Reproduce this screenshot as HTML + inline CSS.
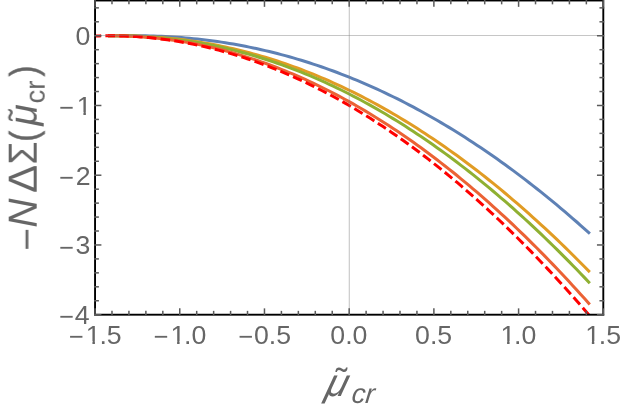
<!DOCTYPE html>
<html><head><meta charset="utf-8"><title>plot</title>
<style>
html,body{margin:0;padding:0;background:#fff;}
body{width:623px;height:410px;overflow:hidden;}
svg{display:block;}
text{font-family:"Liberation Sans",sans-serif;fill:#666;}
.i{font-style:italic;}
</style></head><body>
<svg width="623" height="410" viewBox="0 0 623 410">
<rect width="623" height="410" fill="#fff"/>
<defs><filter id="gs" x="-20%" y="-20%" width="140%" height="140%" color-interpolation-filters="sRGB"><feColorMatrix type="saturate" values="0"/></filter><clipPath id="pc"><rect x="95.05" y="0.50" width="508.25" height="314.20"/></clipPath></defs>
<g clip-path="url(#pc)" fill="none" stroke-width="3.00" stroke-linecap="square" stroke-linejoin="round">
<path d="M109.58 35.75 L113.58 35.72 L117.57 35.67 L121.56 35.64 L125.56 35.62 L129.55 35.61 L133.54 35.62 L137.54 35.65 L141.53 35.70 L145.52 35.78 L149.52 35.88 L153.51 36.00 L157.50 36.14 L161.50 36.31 L165.49 36.51 L169.48 36.73 L173.47 36.98 L177.47 37.26 L181.46 37.56 L185.45 37.89 L189.45 38.25 L193.44 38.64 L197.43 39.05 L201.43 39.50 L205.42 39.97 L209.41 40.47 L213.41 41.00 L217.40 41.56 L221.39 42.14 L225.39 42.76 L229.38 43.41 L233.37 44.09 L237.37 44.79 L241.36 45.53 L245.35 46.30 L249.35 47.10 L253.34 47.92 L257.33 48.78 L261.32 49.67 L265.32 50.59 L269.31 51.54 L273.30 52.52 L277.30 53.54 L281.29 54.58 L285.28 55.66 L289.28 56.76 L293.27 57.90 L297.26 59.07 L301.26 60.27 L305.25 61.51 L309.24 62.77 L313.24 64.07 L317.23 65.39 L321.22 66.75 L325.22 68.14 L329.21 69.57 L333.20 71.02 L337.20 72.51 L341.19 74.03 L345.18 75.58 L349.18 77.17 L353.17 78.78 L357.16 80.43 L361.15 82.11 L365.15 83.83 L369.14 85.57 L373.13 87.35 L377.13 89.16 L381.12 91.00 L385.11 92.88 L389.11 94.79 L393.10 96.73 L397.09 98.71 L401.09 100.71 L405.08 102.75 L409.07 104.83 L413.07 106.93 L417.06 109.07 L421.05 111.24 L425.05 113.45 L429.04 115.69 L433.03 117.96 L437.03 120.26 L441.02 122.60 L445.01 124.97 L449.00 127.38 L453.00 129.81 L456.99 132.28 L460.98 134.79 L464.98 137.32 L468.97 139.89 L472.96 142.50 L476.96 145.14 L480.95 147.81 L484.94 150.51 L488.94 153.25 L492.93 156.02 L496.92 158.82 L500.92 161.66 L504.91 164.53 L508.90 167.44 L512.90 170.38 L516.89 173.35 L520.88 176.36 L524.88 179.40 L528.87 182.47 L532.86 185.58 L536.85 188.72 L540.85 191.90 L544.84 195.11 L548.83 198.35 L552.83 201.63 L556.82 204.94 L560.81 208.28 L564.81 211.66 L568.80 215.08 L572.79 218.52 L576.79 222.00 L580.78 225.52 L584.77 229.07 L588.77 232.65" stroke="#5E81B5"/>
<path d="M109.58 35.75 L113.58 35.74 L117.57 35.74 L121.56 35.76 L125.56 35.81 L129.55 35.88 L133.54 35.98 L137.54 36.11 L141.53 36.27 L145.52 36.46 L149.52 36.68 L153.51 36.93 L157.50 37.21 L161.50 37.52 L165.49 37.87 L169.48 38.24 L173.47 38.65 L177.47 39.10 L181.46 39.57 L185.45 40.08 L189.45 40.62 L193.44 41.19 L197.43 41.79 L201.43 42.43 L205.42 43.11 L209.41 43.81 L213.41 44.55 L217.40 45.33 L221.39 46.14 L225.39 46.98 L229.38 47.85 L233.37 48.76 L237.37 49.71 L241.36 50.69 L245.35 51.70 L249.35 52.74 L253.34 53.83 L257.33 54.94 L261.32 56.09 L265.32 57.28 L269.31 58.50 L273.30 59.75 L277.30 61.04 L281.29 62.37 L285.28 63.72 L289.28 65.12 L293.27 66.55 L297.26 68.01 L301.26 69.51 L305.25 71.04 L309.24 72.61 L313.24 74.22 L317.23 75.85 L321.22 77.53 L325.22 79.24 L329.21 80.98 L333.20 82.76 L337.20 84.58 L341.19 86.43 L345.18 88.32 L349.18 90.24 L353.17 92.19 L357.16 94.19 L361.15 96.21 L365.15 98.28 L369.14 100.38 L373.13 102.51 L377.13 104.68 L381.12 106.89 L385.11 109.13 L389.11 111.40 L393.10 113.72 L397.09 116.06 L401.09 118.45 L405.08 120.87 L409.07 123.32 L413.07 125.81 L417.06 128.34 L421.05 130.90 L425.05 133.50 L429.04 136.14 L433.03 138.81 L437.03 141.51 L441.02 144.26 L445.01 147.03 L449.00 149.85 L453.00 152.70 L456.99 155.58 L460.98 158.50 L464.98 161.46 L468.97 164.46 L472.96 167.49 L476.96 170.55 L480.95 173.65 L484.94 176.79 L488.94 179.97 L492.93 183.18 L496.92 186.42 L500.92 189.70 L504.91 193.02 L508.90 196.38 L512.90 199.77 L516.89 203.19 L520.88 206.66 L524.88 210.16 L528.87 213.69 L532.86 217.26 L536.85 220.87 L540.85 224.52 L544.84 228.20 L548.83 231.91 L552.83 235.66 L556.82 239.45 L560.81 243.28 L564.81 247.14 L568.80 251.04 L572.79 254.97 L576.79 258.94 L580.78 262.95 L584.77 266.99 L588.77 271.07" stroke="#E19C24"/>
<path d="M109.58 35.75 L113.58 35.75 L117.57 35.76 L121.56 35.80 L125.56 35.87 L129.55 35.96 L133.54 36.09 L137.54 36.25 L141.53 36.44 L145.52 36.66 L149.52 36.92 L153.51 37.20 L157.50 37.53 L161.50 37.88 L165.49 38.27 L169.48 38.69 L173.47 39.15 L177.47 39.63 L181.46 40.16 L185.45 40.72 L189.45 41.31 L193.44 41.94 L197.43 42.60 L201.43 43.30 L205.42 44.03 L209.41 44.79 L213.41 45.59 L217.40 46.43 L221.39 47.30 L225.39 48.21 L229.38 49.15 L233.37 50.13 L237.37 51.14 L241.36 52.19 L245.35 53.27 L249.35 54.39 L253.34 55.55 L257.33 56.74 L261.32 57.96 L265.32 59.23 L269.31 60.52 L273.30 61.86 L277.30 63.22 L281.29 64.63 L285.28 66.07 L289.28 67.55 L293.27 69.06 L297.26 70.61 L301.26 72.19 L305.25 73.81 L309.24 75.47 L313.24 77.16 L317.23 78.89 L321.22 80.66 L325.22 82.46 L329.21 84.29 L333.20 86.17 L337.20 88.08 L341.19 90.02 L345.18 92.01 L349.18 94.02 L353.17 96.08 L357.16 98.17 L361.15 100.30 L365.15 102.46 L369.14 104.66 L373.13 106.90 L377.13 109.17 L381.12 111.48 L385.11 113.83 L389.11 116.21 L393.10 118.63 L397.09 121.08 L401.09 123.58 L405.08 126.10 L409.07 128.67 L413.07 131.27 L417.06 133.91 L421.05 136.58 L425.05 139.30 L429.04 142.04 L433.03 144.83 L437.03 147.65 L441.02 150.51 L445.01 153.40 L449.00 156.33 L453.00 159.30 L456.99 162.31 L460.98 165.35 L464.98 168.43 L468.97 171.54 L472.96 174.69 L476.96 177.88 L480.95 181.11 L484.94 184.37 L488.94 187.67 L492.93 191.00 L496.92 194.37 L500.92 197.78 L504.91 201.23 L508.90 204.71 L512.90 208.23 L516.89 211.79 L520.88 215.38 L524.88 219.01 L528.87 222.68 L532.86 226.38 L536.85 230.12 L540.85 233.90 L544.84 237.72 L548.83 241.57 L552.83 245.46 L556.82 249.38 L560.81 253.35 L564.81 257.35 L568.80 261.38 L572.79 265.46 L576.79 269.57 L580.78 273.71 L584.77 277.90 L588.77 282.12" stroke="#8FB032"/>
<path d="M109.58 35.75 L113.58 35.76 L117.57 35.81 L121.56 35.89 L125.56 36.01 L129.55 36.16 L133.54 36.34 L137.54 36.57 L141.53 36.83 L145.52 37.13 L149.52 37.46 L153.51 37.83 L157.50 38.23 L161.50 38.68 L165.49 39.16 L169.48 39.68 L173.47 40.23 L177.47 40.82 L181.46 41.45 L185.45 42.12 L189.45 42.82 L193.44 43.56 L197.43 44.34 L201.43 45.15 L205.42 46.00 L209.41 46.89 L213.41 47.82 L217.40 48.78 L221.39 49.78 L225.39 50.82 L229.38 51.90 L233.37 53.01 L237.37 54.16 L241.36 55.35 L245.35 56.58 L249.35 57.84 L253.34 59.14 L257.33 60.48 L261.32 61.86 L265.32 63.27 L269.31 64.72 L273.30 66.21 L277.30 67.74 L281.29 69.30 L285.28 70.91 L289.28 72.54 L293.27 74.22 L297.26 75.94 L301.26 77.69 L305.25 79.48 L309.24 81.31 L313.24 83.17 L317.23 85.08 L321.22 87.02 L325.22 89.00 L329.21 91.01 L333.20 93.07 L337.20 95.16 L341.19 97.29 L345.18 99.46 L349.18 101.66 L353.17 103.91 L357.16 106.19 L361.15 108.51 L365.15 110.87 L369.14 113.26 L373.13 115.69 L377.13 118.16 L381.12 120.67 L385.11 123.22 L389.11 125.80 L393.10 128.42 L397.09 131.08 L401.09 133.78 L405.08 136.51 L409.07 139.29 L413.07 142.10 L417.06 144.95 L421.05 147.83 L425.05 150.76 L429.04 153.72 L433.03 156.72 L437.03 159.76 L441.02 162.84 L445.01 165.95 L449.00 169.10 L453.00 172.29 L456.99 175.52 L460.98 178.79 L464.98 182.09 L468.97 185.43 L472.96 188.81 L476.96 192.23 L480.95 195.68 L484.94 199.18 L488.94 202.71 L492.93 206.28 L496.92 209.89 L500.92 213.53 L504.91 217.22 L508.90 220.94 L512.90 224.70 L516.89 228.49 L520.88 232.33 L524.88 236.20 L528.87 240.11 L532.86 244.06 L536.85 248.05 L540.85 252.07 L544.84 256.14 L548.83 260.24 L552.83 264.38 L556.82 268.56 L560.81 272.77 L564.81 277.02 L568.80 281.32 L572.79 285.65 L576.79 290.01 L580.78 294.42 L584.77 298.86 L588.77 303.34" stroke="#EB6235"/>
<path d="M95.05 36.01 L99.16 35.88 L103.28 35.80 L107.39 35.76 L111.51 35.75 L115.62 35.79 L119.74 35.88 L123.85 36.00 L127.96 36.16 L132.08 36.36 L136.19 36.61 L140.31 36.90 L144.42 37.22 L148.54 37.59 L152.65 38.00 L156.76 38.45 L160.88 38.95 L164.99 39.48 L169.11 40.05 L173.22 40.67 L177.34 41.33 L181.45 42.02 L185.56 42.76 L189.68 43.54 L193.79 44.36 L197.91 45.23 L202.02 46.13 L206.14 47.08 L210.25 48.06 L214.36 49.09 L218.48 50.16 L222.59 51.27 L226.71 52.42 L230.82 53.61 L234.94 54.84 L239.05 56.11 L243.16 57.43 L247.28 58.78 L251.39 60.18 L255.51 61.62 L259.62 63.10 L263.74 64.62 L267.85 66.18 L271.97 67.78 L276.08 69.43 L280.19 71.11 L284.31 72.84 L288.42 74.60 L292.54 76.41 L296.65 78.26 L300.77 80.15 L304.88 82.09 L308.99 84.06 L313.11 86.07 L317.22 88.13 L321.34 90.22 L325.45 92.36 L329.57 94.54 L333.68 96.76 L337.79 99.02 L341.91 101.32 L346.02 103.66 L350.14 106.05 L354.25 108.47 L358.37 110.94 L362.48 113.45 L366.59 116.00 L370.71 118.59 L374.82 121.22 L378.94 123.89 L383.05 126.60 L387.17 129.36 L391.28 132.15 L395.39 134.99 L399.51 137.87 L403.62 140.79 L407.74 143.74 L411.85 146.75 L415.97 149.79 L420.08 152.87 L424.19 156.00 L428.31 159.16 L432.42 162.37 L436.54 165.62 L440.65 168.91 L444.77 172.24 L448.88 175.61 L452.99 179.02 L457.11 182.47 L461.22 185.97 L465.34 189.50 L469.45 193.08 L473.57 196.70 L477.68 200.36 L481.79 204.06 L485.91 207.80 L490.02 211.58 L494.14 215.40 L498.25 219.27 L502.37 223.18 L506.48 227.12 L510.59 231.11 L514.71 235.14 L518.82 239.21 L522.94 243.32 L527.05 247.47 L531.17 251.67 L535.28 255.90 L539.39 260.18 L543.51 264.50 L547.62 268.85 L551.74 273.25 L555.85 277.69 L559.97 282.18 L564.08 286.70 L568.19 291.26 L572.31 295.87 L576.42 300.51 L580.54 305.20 L584.65 309.93 L588.77 314.70" stroke="#FF0000" stroke-linecap="butt" stroke-dasharray="9.62 4.21" stroke-dashoffset="3.5"/>
</g>
<g stroke="#808080" stroke-opacity="0.45" stroke-width="1.1" fill="none">
<line x1="349.30" y1="0.50" x2="349.30" y2="314.70"/>
<line x1="95.05" y1="35.50" x2="603.30" y2="35.50"/>
</g>
<rect x="95.05" y="0.50" width="508.25" height="314.20" fill="none" stroke="#000" stroke-width="1.90"/>
<g stroke="#5a5a5a" stroke-width="1.50" fill="none">
<line x1="95.05" y1="315.65" x2="95.05" y2="308.35"/><line x1="95.05" y1="-0.45" x2="95.05" y2="6.85"/>
<line x1="111.99" y1="315.65" x2="111.99" y2="310.85"/><line x1="111.99" y1="-0.45" x2="111.99" y2="4.35"/>
<line x1="128.93" y1="315.65" x2="128.93" y2="310.85"/><line x1="128.93" y1="-0.45" x2="128.93" y2="4.35"/>
<line x1="145.88" y1="315.65" x2="145.88" y2="310.85"/><line x1="145.88" y1="-0.45" x2="145.88" y2="4.35"/>
<line x1="162.82" y1="315.65" x2="162.82" y2="310.85"/><line x1="162.82" y1="-0.45" x2="162.82" y2="4.35"/>
<line x1="179.76" y1="315.65" x2="179.76" y2="308.35"/><line x1="179.76" y1="-0.45" x2="179.76" y2="6.85"/>
<line x1="196.70" y1="315.65" x2="196.70" y2="310.85"/><line x1="196.70" y1="-0.45" x2="196.70" y2="4.35"/>
<line x1="213.64" y1="315.65" x2="213.64" y2="310.85"/><line x1="213.64" y1="-0.45" x2="213.64" y2="4.35"/>
<line x1="230.58" y1="315.65" x2="230.58" y2="310.85"/><line x1="230.58" y1="-0.45" x2="230.58" y2="4.35"/>
<line x1="247.52" y1="315.65" x2="247.52" y2="310.85"/><line x1="247.52" y1="-0.45" x2="247.52" y2="4.35"/>
<line x1="264.47" y1="315.65" x2="264.47" y2="308.35"/><line x1="264.47" y1="-0.45" x2="264.47" y2="6.85"/>
<line x1="281.41" y1="315.65" x2="281.41" y2="310.85"/><line x1="281.41" y1="-0.45" x2="281.41" y2="4.35"/>
<line x1="298.35" y1="315.65" x2="298.35" y2="310.85"/><line x1="298.35" y1="-0.45" x2="298.35" y2="4.35"/>
<line x1="315.29" y1="315.65" x2="315.29" y2="310.85"/><line x1="315.29" y1="-0.45" x2="315.29" y2="4.35"/>
<line x1="332.23" y1="315.65" x2="332.23" y2="310.85"/><line x1="332.23" y1="-0.45" x2="332.23" y2="4.35"/>
<line x1="349.18" y1="315.65" x2="349.18" y2="308.35"/><line x1="349.18" y1="-0.45" x2="349.18" y2="6.85"/>
<line x1="366.12" y1="315.65" x2="366.12" y2="310.85"/><line x1="366.12" y1="-0.45" x2="366.12" y2="4.35"/>
<line x1="383.06" y1="315.65" x2="383.06" y2="310.85"/><line x1="383.06" y1="-0.45" x2="383.06" y2="4.35"/>
<line x1="400.00" y1="315.65" x2="400.00" y2="310.85"/><line x1="400.00" y1="-0.45" x2="400.00" y2="4.35"/>
<line x1="416.94" y1="315.65" x2="416.94" y2="310.85"/><line x1="416.94" y1="-0.45" x2="416.94" y2="4.35"/>
<line x1="433.88" y1="315.65" x2="433.88" y2="308.35"/><line x1="433.88" y1="-0.45" x2="433.88" y2="6.85"/>
<line x1="450.82" y1="315.65" x2="450.82" y2="310.85"/><line x1="450.82" y1="-0.45" x2="450.82" y2="4.35"/>
<line x1="467.77" y1="315.65" x2="467.77" y2="310.85"/><line x1="467.77" y1="-0.45" x2="467.77" y2="4.35"/>
<line x1="484.71" y1="315.65" x2="484.71" y2="310.85"/><line x1="484.71" y1="-0.45" x2="484.71" y2="4.35"/>
<line x1="501.65" y1="315.65" x2="501.65" y2="310.85"/><line x1="501.65" y1="-0.45" x2="501.65" y2="4.35"/>
<line x1="518.59" y1="315.65" x2="518.59" y2="308.35"/><line x1="518.59" y1="-0.45" x2="518.59" y2="6.85"/>
<line x1="535.53" y1="315.65" x2="535.53" y2="310.85"/><line x1="535.53" y1="-0.45" x2="535.53" y2="4.35"/>
<line x1="552.48" y1="315.65" x2="552.48" y2="310.85"/><line x1="552.48" y1="-0.45" x2="552.48" y2="4.35"/>
<line x1="569.42" y1="315.65" x2="569.42" y2="310.85"/><line x1="569.42" y1="-0.45" x2="569.42" y2="4.35"/>
<line x1="586.36" y1="315.65" x2="586.36" y2="310.85"/><line x1="586.36" y1="-0.45" x2="586.36" y2="4.35"/>
<line x1="603.30" y1="315.65" x2="603.30" y2="308.35"/><line x1="603.30" y1="-0.45" x2="603.30" y2="6.85"/>
<line x1="94.10" y1="314.70" x2="101.40" y2="314.70"/><line x1="604.25" y1="314.70" x2="596.95" y2="314.70"/>
<line x1="94.10" y1="300.75" x2="98.90" y2="300.75"/><line x1="604.25" y1="300.75" x2="599.45" y2="300.75"/>
<line x1="94.10" y1="286.81" x2="98.90" y2="286.81"/><line x1="604.25" y1="286.81" x2="599.45" y2="286.81"/>
<line x1="94.10" y1="272.86" x2="98.90" y2="272.86"/><line x1="604.25" y1="272.86" x2="599.45" y2="272.86"/>
<line x1="94.10" y1="258.91" x2="98.90" y2="258.91"/><line x1="604.25" y1="258.91" x2="599.45" y2="258.91"/>
<line x1="94.10" y1="244.96" x2="101.40" y2="244.96"/><line x1="604.25" y1="244.96" x2="596.95" y2="244.96"/>
<line x1="94.10" y1="231.01" x2="98.90" y2="231.01"/><line x1="604.25" y1="231.01" x2="599.45" y2="231.01"/>
<line x1="94.10" y1="217.07" x2="98.90" y2="217.07"/><line x1="604.25" y1="217.07" x2="599.45" y2="217.07"/>
<line x1="94.10" y1="203.12" x2="98.90" y2="203.12"/><line x1="604.25" y1="203.12" x2="599.45" y2="203.12"/>
<line x1="94.10" y1="189.17" x2="98.90" y2="189.17"/><line x1="604.25" y1="189.17" x2="599.45" y2="189.17"/>
<line x1="94.10" y1="175.22" x2="101.40" y2="175.22"/><line x1="604.25" y1="175.22" x2="596.95" y2="175.22"/>
<line x1="94.10" y1="161.28" x2="98.90" y2="161.28"/><line x1="604.25" y1="161.28" x2="599.45" y2="161.28"/>
<line x1="94.10" y1="147.33" x2="98.90" y2="147.33"/><line x1="604.25" y1="147.33" x2="599.45" y2="147.33"/>
<line x1="94.10" y1="133.38" x2="98.90" y2="133.38"/><line x1="604.25" y1="133.38" x2="599.45" y2="133.38"/>
<line x1="94.10" y1="119.43" x2="98.90" y2="119.43"/><line x1="604.25" y1="119.43" x2="599.45" y2="119.43"/>
<line x1="94.10" y1="105.49" x2="101.40" y2="105.49"/><line x1="604.25" y1="105.49" x2="596.95" y2="105.49"/>
<line x1="94.10" y1="91.54" x2="98.90" y2="91.54"/><line x1="604.25" y1="91.54" x2="599.45" y2="91.54"/>
<line x1="94.10" y1="77.59" x2="98.90" y2="77.59"/><line x1="604.25" y1="77.59" x2="599.45" y2="77.59"/>
<line x1="94.10" y1="63.64" x2="98.90" y2="63.64"/><line x1="604.25" y1="63.64" x2="599.45" y2="63.64"/>
<line x1="94.10" y1="49.70" x2="98.90" y2="49.70"/><line x1="604.25" y1="49.70" x2="599.45" y2="49.70"/>
<line x1="94.10" y1="35.75" x2="101.40" y2="35.75"/><line x1="604.25" y1="35.75" x2="596.95" y2="35.75"/>
<line x1="94.10" y1="21.80" x2="98.90" y2="21.80"/><line x1="604.25" y1="21.80" x2="599.45" y2="21.80"/>
<line x1="94.10" y1="7.86" x2="98.90" y2="7.86"/><line x1="604.25" y1="7.86" x2="599.45" y2="7.86"/>
</g>
<g filter="url(#gs)">
<g font-size="26.70">
<text x="69.06" y="345.30" font-size="25.40">−</text><text x="85.79" y="343.70">1</text><text x="99.44" y="343.70">.5</text>
<text x="153.73" y="345.30" font-size="25.40">−</text><text x="170.46" y="343.70">1</text><text x="184.11" y="343.70">.0</text>
<text x="238.48" y="345.30" font-size="25.40">−</text><text x="254.01" y="343.70">0.5</text>
<text x="330.32" y="343.70">0.0</text>
<text x="415.06" y="343.70">0.5</text>
<text x="500.44" y="343.70">1</text><text x="514.09" y="343.70">.0</text>
<text x="585.19" y="343.70">1</text><text x="598.83" y="343.70">.5</text>
<text x="75.59" y="45.25">0</text>
<text x="59.15" y="116.29" font-size="25.40">−</text><text x="76.75" y="114.69">1</text>
<text x="59.15" y="186.22" font-size="25.40">−</text><text x="75.69" y="184.62">2</text>
<text x="59.15" y="255.96" font-size="25.40">−</text><text x="75.62" y="254.36">3</text>
<text x="59.15" y="325.10" font-size="25.40">−</text><text x="74.73" y="323.50">4</text>
</g>
<g fill="#fff"><rect x="86.32" y="341.03" width="6.12" height="3.67"/><rect x="94.92" y="341.03" width="5.34" height="3.67"/><rect x="170.99" y="341.03" width="6.12" height="3.67"/><rect x="179.59" y="341.03" width="5.34" height="3.67"/><rect x="500.97" y="341.03" width="6.12" height="3.67"/><rect x="509.57" y="341.03" width="5.34" height="3.67"/><rect x="585.72" y="341.03" width="6.12" height="3.67"/><rect x="594.31" y="341.03" width="5.34" height="3.67"/><rect x="77.29" y="112.02" width="6.12" height="3.67"/><rect x="85.88" y="112.02" width="5.34" height="3.67"/></g>
<g class="i">
<text transform="translate(324.0,396.0) skewX(-15)" font-size="39">μ</text>
<text transform="translate(351.1,402.8) skewX(-6)" font-size="27.5">cr</text>
</g>
<text x="335.67" y="393.21" font-size="35.00">˜</text>
<g transform="translate(36.70,250.00) rotate(-90)">
<text x="-0.72" y="2.60" font-size="39.00">−</text>
<text class="i" x="22.15" y="0.00" font-size="40.50">N</text>
<text transform="translate(56.94,0.00) scale(1.040,1)" font-size="40.50">Δ</text>
<text transform="translate(85.59,0.00) scale(0.920,1)" font-size="40.50">Σ</text>
<text transform="translate(108.18,0.30) scale(0.850,1)" font-size="38.80" stroke="#666" stroke-width="0.5">(</text>
<text class="i" x="124.22" y="0.40" font-size="39.20">μ</text>
<text x="146.43" y="7.50" font-size="27.60">cr</text>
<text transform="translate(173.48,0.30) scale(0.850,1)" font-size="38.80" stroke="#666" stroke-width="0.5">)</text>
<text x="129.27" y="-3.09" font-size="35.00">˜</text>
</g>
</g>
</svg>
</body></html>
